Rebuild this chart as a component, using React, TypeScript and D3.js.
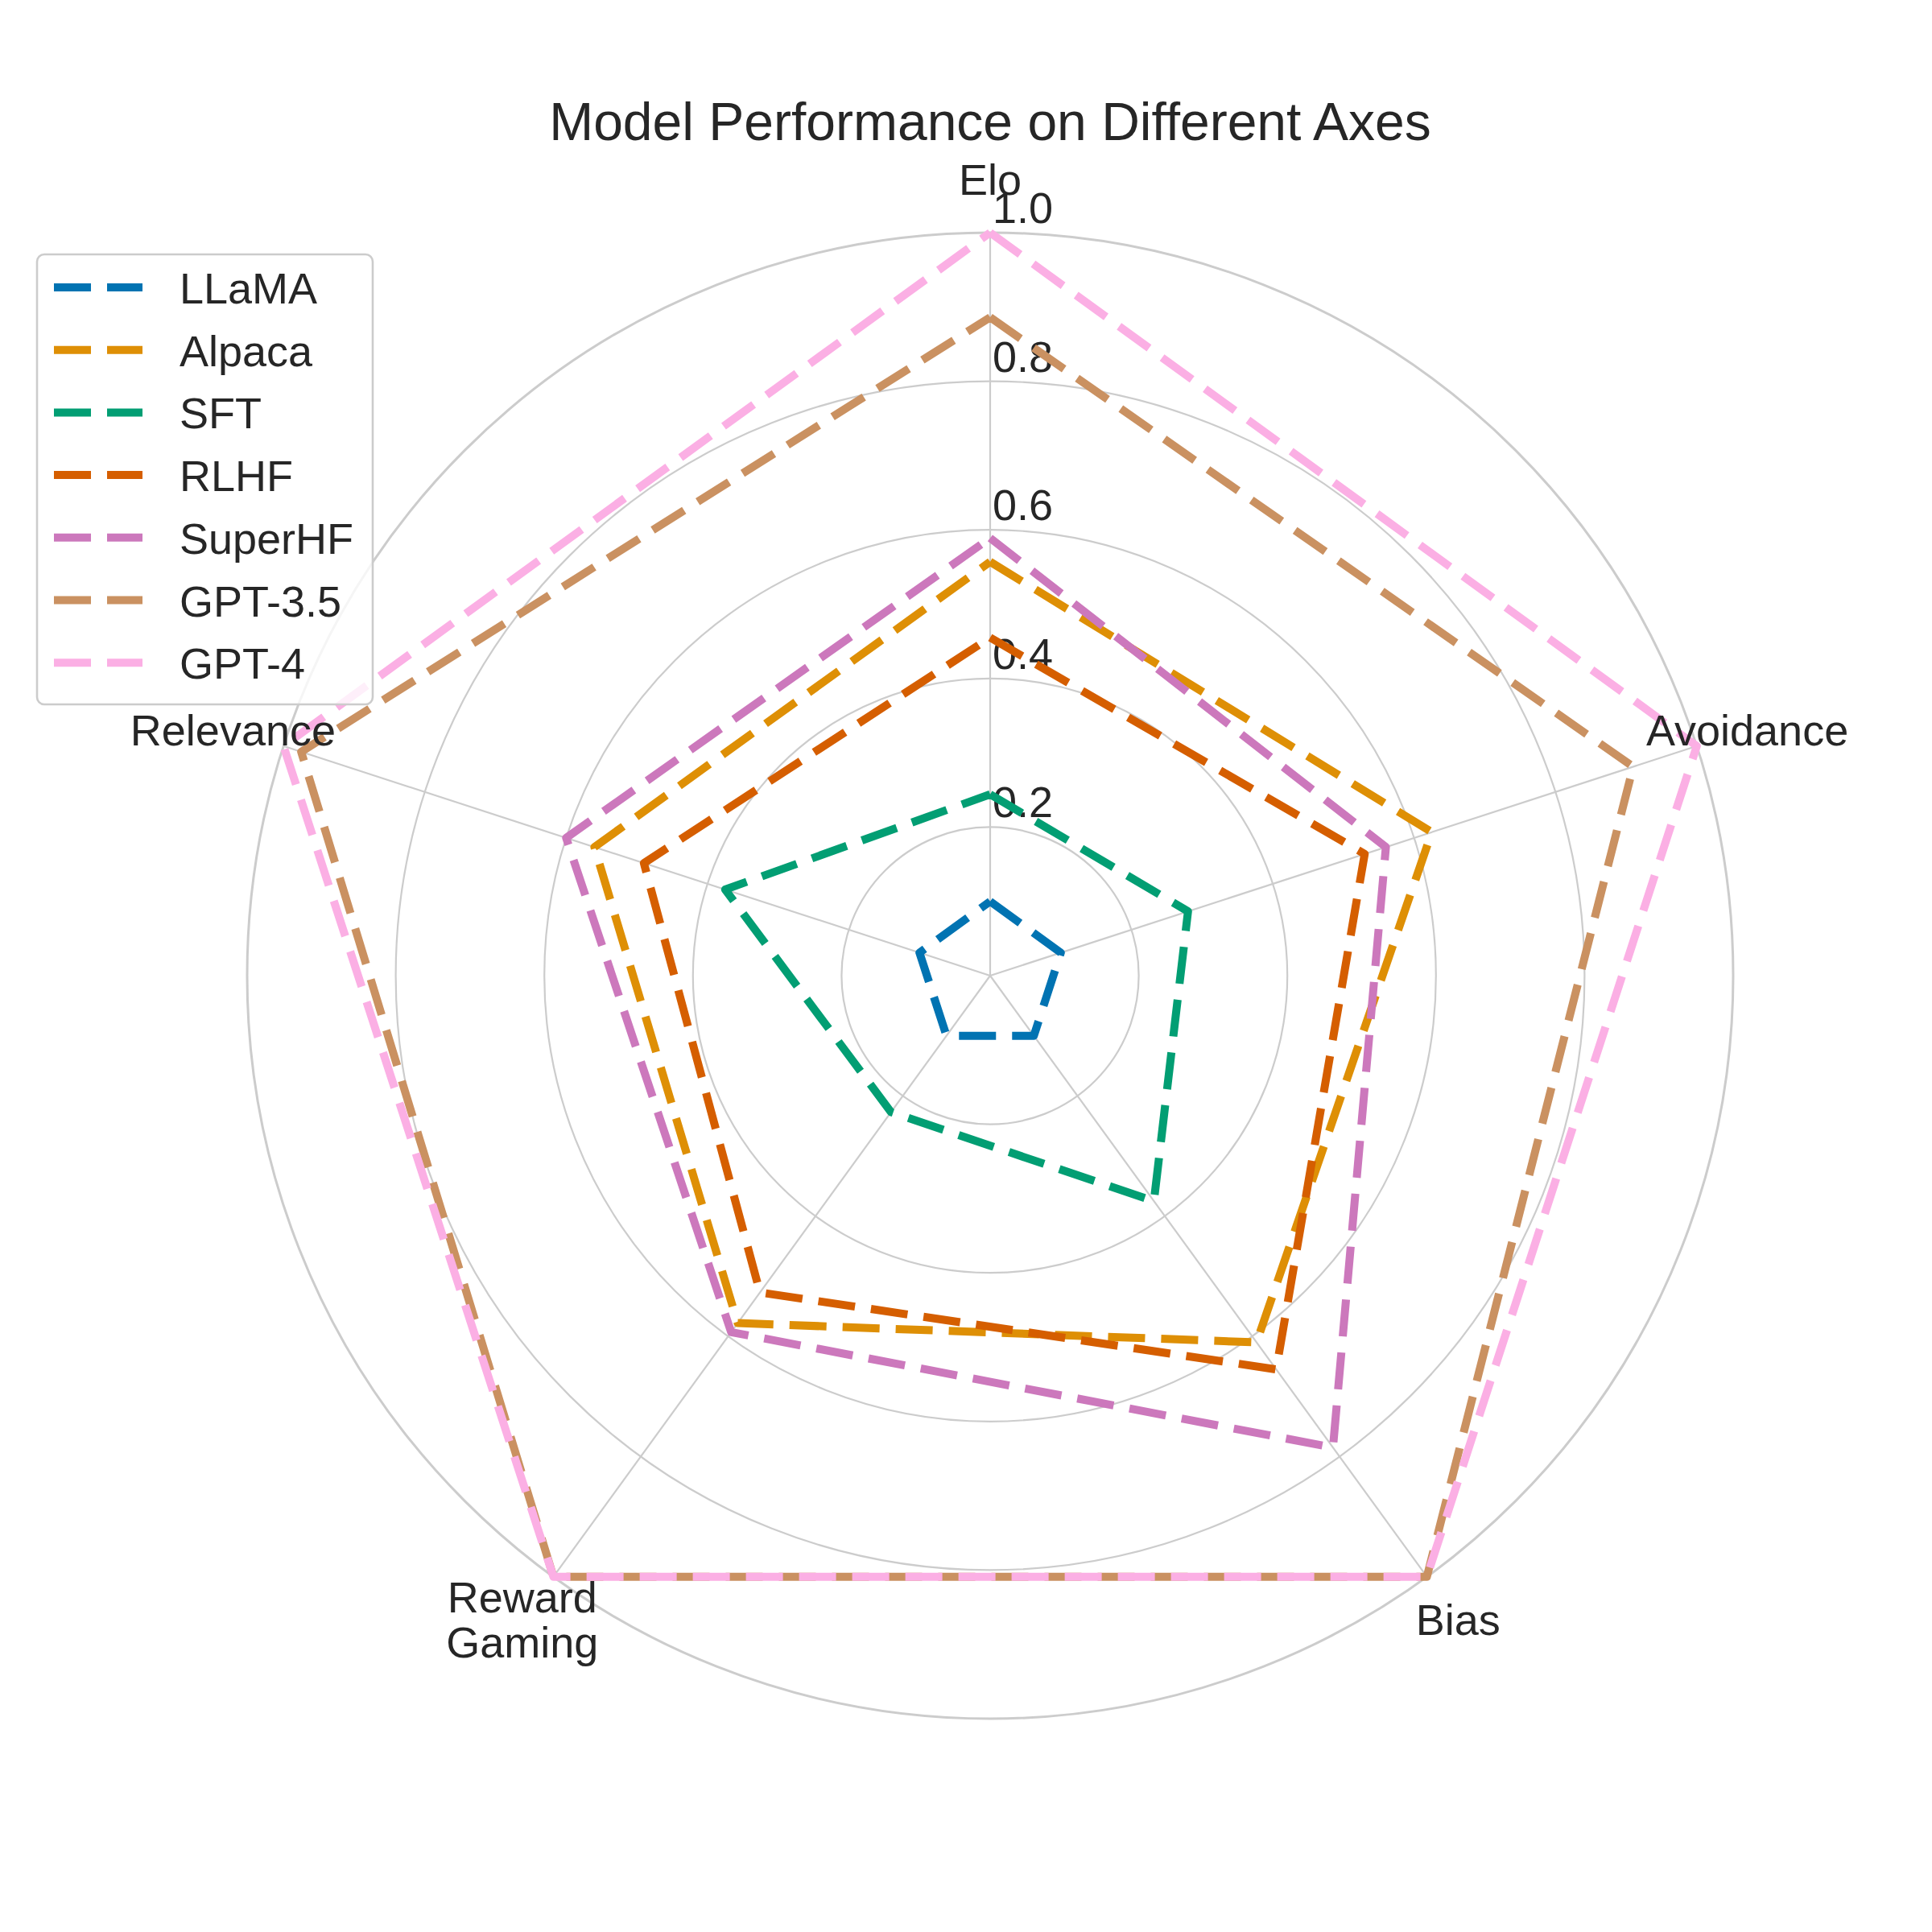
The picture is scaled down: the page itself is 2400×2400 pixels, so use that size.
import React from "react";
import * as d3 from "d3";

const axes = ["Elo", "Avoidance", "Bias", "Reward\nGaming", "Relevance"];
const models = ["LLaMA", "Alpaca", "SFT", "RLHF", "SuperHF", "GPT-3.5", "GPT-4"];
const colors = ["#0173b2", "#de8f05", "#029e73", "#d55e00", "#cc78bc", "#ca9161", "#fbafe4"];

const llama = [0.1, 0.1, 0.1, 0.1, 0.1];
const alpaca = [0.557, 0.625, 0.61, 0.578, 0.56];
const sft = [0.244, 0.28, 0.375, 0.227, 0.375];
const rlhf = [0.455, 0.53, 0.655, 0.527, 0.49];
const superhf = [0.589, 0.56, 0.785, 0.593, 0.6];
const gpt35 = [0.886, 0.91, 1.0, 1.0, 0.975];
const gpt4 = [1.0, 1.0, 1.0, 1.0, 1.0];
const series = [llama, alpaca, sft, rlhf, superhf, gpt35, gpt4];

const rTicks = [0.2, 0.4, 0.6, 0.8, 1.0];
const title = "Model Performance on Different Axes";

const W = 2400;
const H = 2400;
const cx = 1230;
const cy = 1212;
const R = 923;
const FONT = "'Liberation Sans', Arial, sans-serif";
const TEXT = "#262626";
const GRID = "#cccccc";
const FS = 54;

export default function App() {
  const r = d3.scaleLinear().domain([0, 1]).range([0, R]);
  const angle = d3
    .scaleLinear()
    .domain([0, axes.length])
    .range([0, 2 * Math.PI]);

  const line = d3
    .lineRadial<number>()
    .angle((_, i) => angle(i % axes.length))
    .radius((d) => r(d))
    .curve(d3.curveLinear);

  const labelDist = R + 66;

  return (
    <svg
      width={W}
      height={H}
      viewBox={`0 0 ${W} ${H}`}
      style={{ position: "absolute", left: 0, top: 0, display: "block", background: "#fff" }}
    >
      <rect x={0} y={0} width={W} height={H} fill="#ffffff" />
      <text
        x={cx}
        y={174}
        textAnchor="middle"
        fontFamily={FONT}
        fontSize={66}
        fill={TEXT}
      >
        {title}
      </text>
      <g transform={`translate(${cx},${cy})`}>
        {rTicks.map((t) => (
          <circle
            key={t}
            r={r(t)}
            fill="none"
            stroke={GRID}
            strokeWidth={t === 1 ? 3 : 2.2}
          />
        ))}
        {axes.map((a, i) => {
          const th = angle(i);
          return (
            <line
              key={a}
              x1={0}
              y1={0}
              x2={R * Math.sin(th)}
              y2={-R * Math.cos(th)}
              stroke={GRID}
              strokeWidth={2.2}
            />
          );
        })}
        {rTicks.map((t) => (
          <text
            key={"t" + t}
            x={3}
            y={-r(t) - 12}
            fontFamily={FONT}
            fontSize={FS}
            fill={TEXT}
          >
            {t.toFixed(1)}
          </text>
        ))}
        {series.map((vals, k) => (
          <path
            key={models[k]}
            d={line([...vals, vals[0]]) || ""}
            fill="none"
            stroke={colors[k]}
            strokeWidth={10}
            strokeDasharray="46,20"
            strokeLinejoin="round"
            strokeLinecap="butt"
          />
        ))}
        {axes.map((a, i) => {
          const th = angle(i);
          const px = labelDist * Math.sin(th);
          const py = -labelDist * Math.cos(th);
          const lines = a.split("\n");
          const lh = 56;
          return (
            <text
              key={"l" + a}
              textAnchor="middle"
              fontFamily={FONT}
              fontSize={FS}
              fill={TEXT}
            >
              {lines.map((ln, j) => (
                <tspan
                  key={j}
                  x={px}
                  y={py + (j - (lines.length - 1) / 2) * lh + 0.358 * FS}
                >
                  {ln}
                </tspan>
              ))}
            </text>
          );
        })}
      </g>
      <g>
        <rect
          x={46}
          y={316}
          width={417}
          height={559}
          rx={9}
          ry={9}
          fill="#ffffff"
          fillOpacity={0.8}
          stroke={GRID}
          strokeWidth={2.6}
        />
        {models.map((m, k) => {
          const y = 357 + k * 77.7;
          return (
            <g key={"lg" + m}>
              <line
                x1={67}
                x2={177}
                y1={y}
                y2={y}
                stroke={colors[k]}
                strokeWidth={10}
                strokeDasharray="46,20"
              />
              <text x={223} y={y + 20} fontFamily={FONT} fontSize={FS} fill={TEXT}>
                {m}
              </text>
            </g>
          );
        })}
      </g>
    </svg>
  );
}
